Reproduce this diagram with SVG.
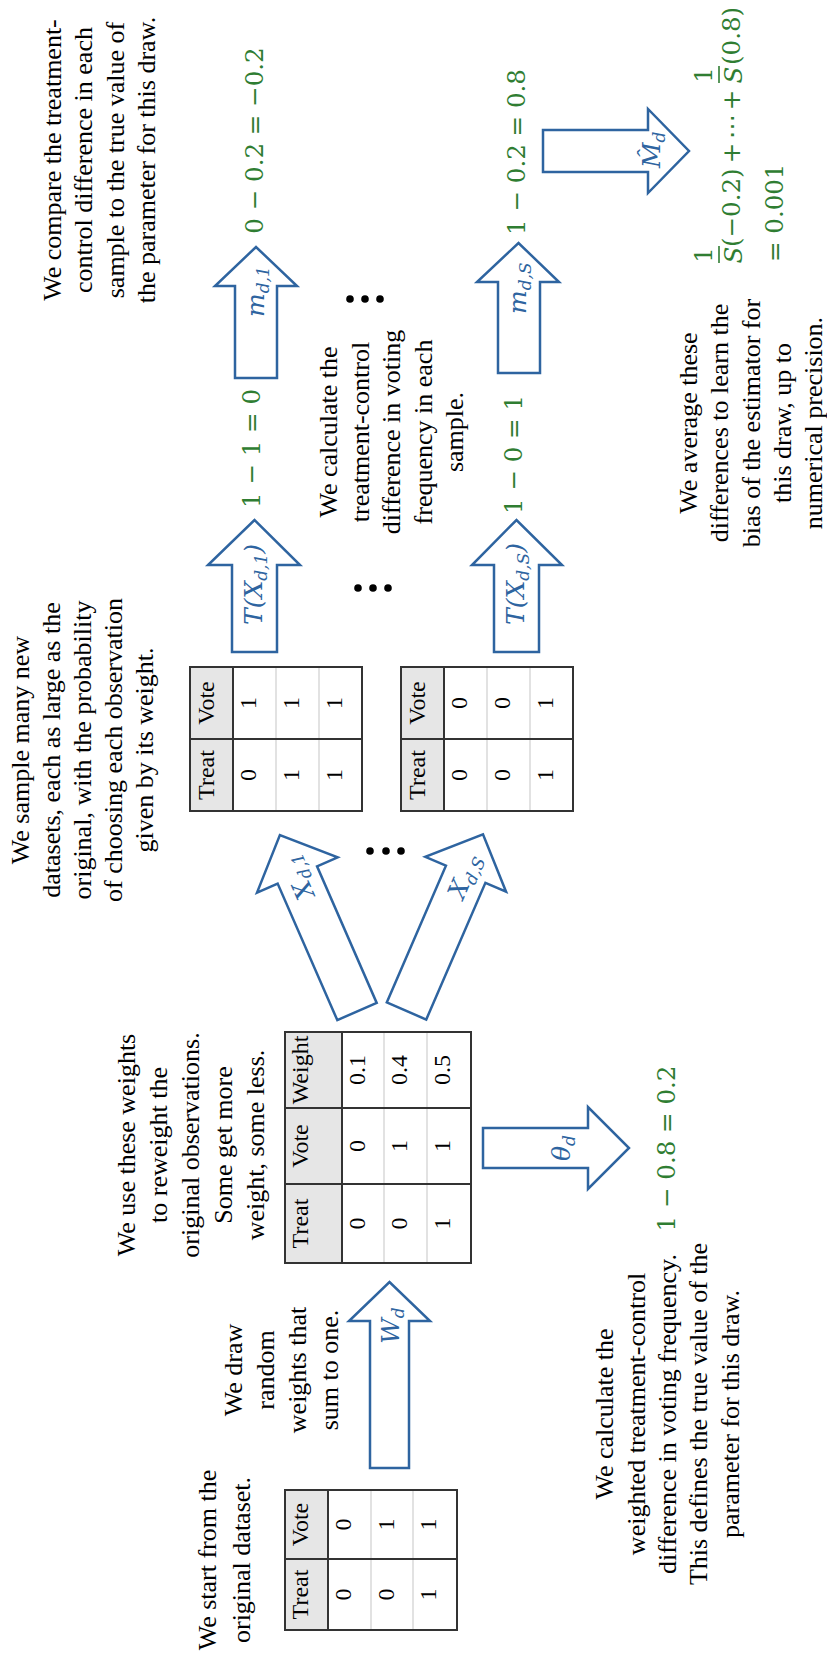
<svg xmlns="http://www.w3.org/2000/svg" width="827" height="1657" viewBox="0 0 827 1657">
<style>
.t{font-family:"Liberation Serif",serif;font-size:26px;fill:#000;text-anchor:middle}
.c{font-family:"Liberation Serif",serif;font-size:24px;fill:#000;text-anchor:middle}
.g{font-family:"DejaVu Serif",serif;font-size:24.5px;fill:#2f7d32}
.gm{text-anchor:middle}
.l{font-family:"DejaVu Serif",serif;font-style:italic;font-size:25px;fill:#2e64a0}
.sub{font-size:17px}
.hdr{fill:#e6e6e6;stroke:none}
.thin{stroke:#d9d9d9;stroke-width:1.5}
.dark{stroke:#333;stroke-width:2;fill:none}
.arr{fill:#fff;stroke:#2e64a0;stroke-width:2.5;stroke-linejoin:miter}
.dot{fill:#000}
</style>
<rect width="827" height="1657" fill="#fff"/>
<g transform="translate(0,1657) rotate(-90)">

<!-- Original dataset -->
<g id="original-table">
<rect class="hdr" x="27" y="285" width="140" height="43"/>
<line class="thin" x1="27" y1="371" x2="167" y2="371"/>
<line class="thin" x1="27" y1="413" x2="167" y2="413"/>
<line class="dark" x1="27" y1="328" x2="167" y2="328"/>
<line class="dark" x1="98" y1="285" x2="98" y2="457"/>
<rect class="dark" x="27" y="285" width="140" height="172"/>
<text class="c" x="62.5" y="308">Treat</text><text class="c" x="132.5" y="308">Vote</text>
<text class="c" x="62.5" y="351">0</text><text class="c" x="132.5" y="351">0</text>
<text class="c" x="62.5" y="394">0</text><text class="c" x="132.5" y="394">1</text>
<text class="c" x="62.5" y="436">1</text><text class="c" x="132.5" y="436">1</text>
</g>
<g id="text-start">
<text class="t" x="97" y="216">We start from the</text>
<text class="t" x="97" y="250">original dataset.</text>
</g>
<g id="text-draw">
<text class="t" x="287" y="242">We draw</text>
<text class="t" x="287" y="274">random</text>
<text class="t" x="287" y="306">weights that</text>
<text class="t" x="287" y="338">sum to one.</text>
</g>

<!-- Weighted table -->
<g id="weighted-table">
<rect class="hdr" x="394" y="285" width="231" height="57"/>
<line class="thin" x1="394" y1="384" x2="625" y2="384"/>
<line class="thin" x1="394" y1="427" x2="625" y2="427"/>
<line class="dark" x1="394" y1="342" x2="625" y2="342"/>
<line class="dark" x1="473" y1="285" x2="473" y2="471"/>
<line class="dark" x1="549" y1="285" x2="549" y2="471"/>
<rect class="dark" x="394" y="285" width="231" height="186"/>
<text class="c" x="433.5" y="308">Treat</text><text class="c" x="511" y="308">Vote</text><text class="c" x="587" y="308">Weight</text>
<text class="c" x="433.5" y="364.5">0</text><text class="c" x="511" y="364.5">0</text><text class="c" x="587" y="364.5">0.1</text>
<text class="c" x="433.5" y="407">0</text><text class="c" x="511" y="407">1</text><text class="c" x="587" y="407">0.4</text>
<text class="c" x="433.5" y="450">1</text><text class="c" x="511" y="450">1</text><text class="c" x="587" y="450">0.5</text>
</g>
<g id="text-reweight">
<text class="t" x="512" y="135">We use these weights</text>
<text class="t" x="512" y="167">to reweight the</text>
<text class="t" x="512" y="199">original observations.</text>
<text class="t" x="512" y="232">Some get more</text>
<text class="t" x="512" y="264">weight, some less.</text>
</g>

<g id="theta-result">
<text class="g gm" x="508.5" y="675">1 − 0.8 = 0.2</text>
</g>
<g id="text-theta">
<text class="t" x="243" y="613">We calculate the</text>
<text class="t" x="243" y="645">weighted treatment-control</text>
<text class="t" x="243" y="676">difference in voting frequency.</text>
<text class="t" x="243" y="707">This defines the true value of the</text>
<text class="t" x="243" y="739">parameter for this draw.</text>
</g>

<!-- Samples -->
<g id="text-sample">
<text class="t" x="907" y="29">We sample many new</text>
<text class="t" x="907" y="60">datasets, each as large as the</text>
<text class="t" x="907" y="91">original, with the probability</text>
<text class="t" x="907" y="122">of choosing each observation</text>
<text class="t" x="907" y="153">given by its weight.</text>
</g>
<g id="sample-1-table">
<rect class="hdr" x="846" y="190" width="144" height="43"/>
<line class="thin" x1="846" y1="276" x2="990" y2="276"/>
<line class="thin" x1="846" y1="319" x2="990" y2="319"/>
<line class="dark" x1="846" y1="233" x2="990" y2="233"/>
<line class="dark" x1="918" y1="190" x2="918" y2="362"/>
<rect class="dark" x="846" y="190" width="144" height="172"/>
<text class="c" x="882" y="213.5">Treat</text><text class="c" x="954" y="213.5">Vote</text>
<text class="c" x="882" y="256">0</text><text class="c" x="954" y="256">1</text>
<text class="c" x="882" y="299">1</text><text class="c" x="954" y="299">1</text>
<text class="c" x="882" y="342">1</text><text class="c" x="954" y="342">1</text>
</g>
<g id="sample-S-table">
<rect class="hdr" x="846" y="401" width="144" height="43"/>
<line class="thin" x1="846" y1="487" x2="990" y2="487"/>
<line class="thin" x1="846" y1="530" x2="990" y2="530"/>
<line class="dark" x1="846" y1="444" x2="990" y2="444"/>
<line class="dark" x1="918" y1="401" x2="918" y2="573"/>
<rect class="dark" x="846" y="401" width="144" height="172"/>
<text class="c" x="882" y="424.5">Treat</text><text class="c" x="954" y="424.5">Vote</text>
<text class="c" x="882" y="467">0</text><text class="c" x="954" y="467">0</text>
<text class="c" x="882" y="510">0</text><text class="c" x="954" y="510">0</text>
<text class="c" x="882" y="553">1</text><text class="c" x="954" y="553">1</text>
</g>
<g id="dots-samples">
<circle class="dot" cx="806" cy="370" r="3.8"/><circle class="dot" cx="806" cy="386" r="3.8"/><circle class="dot" cx="806" cy="401" r="3.8"/>
</g>
<g id="dots-T">
<circle class="dot" cx="1069" cy="358" r="3.8"/><circle class="dot" cx="1069" cy="373" r="3.8"/><circle class="dot" cx="1069" cy="388" r="3.8"/>
</g>
<g id="dots-m">
<circle class="dot" cx="1358" cy="350" r="3.8"/><circle class="dot" cx="1358" cy="365" r="3.8"/><circle class="dot" cx="1358" cy="380" r="3.8"/>
</g>

<g id="T-results">
<text class="g gm" x="1208.5" y="260">1 − 1 = 0</text>
<text class="g gm" x="1202.5" y="522">1 − 0 = 1</text>
</g>
<g id="text-T">
<text class="t" x="1225" y="337">We calculate the</text>
<text class="t" x="1225" y="368.5">treatment-control</text>
<text class="t" x="1225" y="400">difference in voting</text>
<text class="t" x="1225" y="431.5">frequency in each</text>
<text class="t" x="1225" y="463">sample.</text>
</g>

<g id="m-results">
<text class="g gm" x="1516.5" y="263">0 − 0.2 = −0.2</text>
<text class="g gm" x="1505" y="525">1 − 0.2 = 0.8</text>
</g>
<g id="text-compare">
<text class="t" x="1497" y="60.5">We compare the treatment-</text>
<text class="t" x="1497" y="92">control difference in each</text>
<text class="t" x="1497" y="123.5">sample to the true value of</text>
<text class="t" x="1497" y="155">the parameter for this draw.</text>
</g>

<g id="bias-formula">
<text class="g gm" x="1402" y="712">1</text>
<line x1="1394" y1="719" x2="1411" y2="719" stroke="#2f7d32" stroke-width="1.6"/>
<text class="g gm" x="1402" y="742" font-style="italic">S</text>
<text class="g" x="1410" y="740">(−0.2)</text>
<text class="g gm" x="1504" y="740">+</text>
<text class="g gm" x="1531" y="740">⋯</text>
<text class="g gm" x="1557" y="740">+</text>
<text class="g gm" x="1582" y="712">1</text>
<line x1="1574" y1="719" x2="1591" y2="719" stroke="#2f7d32" stroke-width="1.6"/>
<text class="g gm" x="1582" y="742" font-style="italic">S</text>
<text class="g" x="1592" y="740">(0.8)</text>
<text class="g" x="1395" y="783">= 0.001</text>
</g>
<g id="text-average">
<text class="t" x="1234" y="697">We average these</text>
<text class="t" x="1234" y="728">differences to learn the</text>
<text class="t" x="1234" y="760">bias of the estimator for</text>
<text class="t" x="1234" y="791">this draw, up to</text>
<text class="t" x="1234" y="822">numerical precision.</text>
</g>

<!-- Connectors -->
<g id="connectors">
<g id="arrow-W">
<polygon class="arr" points="189,370 336,370 336,349 375,389.5 336,430 336,409 189,409"/>
<text class="l" x="313" y="399">W<tspan class="sub" dy="5">d</tspan></text>
</g>
<g id="arrow-theta">
<polygon class="arr" points="489,483 489,588 468,588 509,629 550,588 529,588 529,483"/>
<text class="l" x="496" y="570">θ<tspan class="sub" dy="5">d</tspan></text>
</g>
<g id="arrow-X1" transform="translate(645.5,357) rotate(-23.6)">
<polygon class="arr" points="0,-21.5 149,-21.5 149,-44 192.6,0 149,44 149,21.5 0,21.5"/>
<text class="l" x="124" y="8">X<tspan class="sub" dy="5">d,1</tspan></text>
</g>
<g id="arrow-XS" transform="translate(646,406.5) rotate(23.4)">
<polygon class="arr" points="0,-21.5 149,-21.5 149,-44 192.6,0 149,44 149,21.5 0,21.5"/>
<text class="l" x="124" y="8">X<tspan class="sub" dy="5">d,S</tspan></text>
</g>
<g id="arrow-T1">
<polygon class="arr" points="1005,232 1092,232 1092,208 1137,254.5 1092,300 1092,277 1005,277"/>
<text class="l" x="1032" y="262">T(X<tspan class="sub" dy="5">d,1</tspan><tspan dy="-5">)</tspan></text>
</g>
<g id="arrow-TS">
<polygon class="arr" points="1005,494 1092,494 1092,472 1137,516.5 1092,562 1092,539 1005,539"/>
<text class="l" x="1032" y="524">T(X<tspan class="sub" dy="5">d,S</tspan><tspan dy="-5">)</tspan></text>
</g>
<g id="arrow-m1">
<polygon class="arr" points="1279,235 1371,235 1371,215 1410,256 1371,297 1371,277 1279,277"/>
<text class="l" x="1340" y="264">m<tspan class="sub" dy="5">d,1</tspan></text>
</g>
<g id="arrow-mS">
<polygon class="arr" points="1284,498 1375,498 1375,477 1414,518.5 1375,559 1375,540 1284,540"/>
<text class="l" x="1343" y="526">m<tspan class="sub" dy="5">d,S</tspan></text>
</g>
<g id="arrow-M">
<polygon class="arr" points="1485,543 1485,648 1464,648 1506,689 1548,648 1527,648 1527,543"/>
<text class="l" x="1489" y="660">M̂<tspan class="sub" dy="5">d</tspan></text>
</g>
</g>

</g>
</svg>
